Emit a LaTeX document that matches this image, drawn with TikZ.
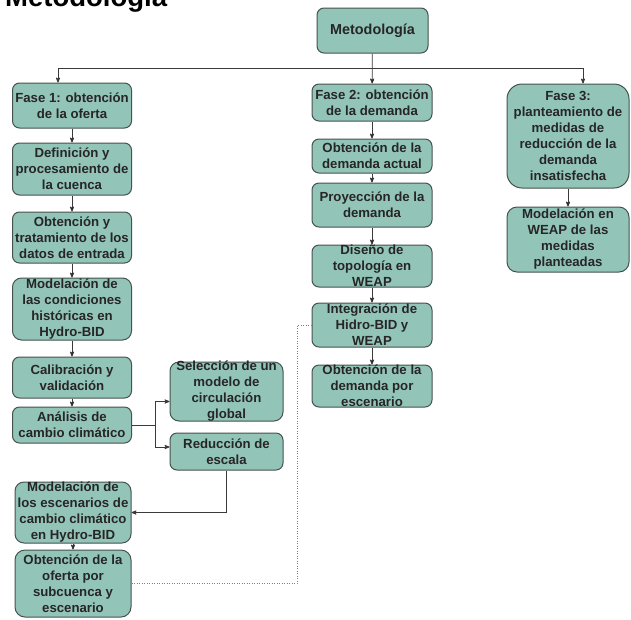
\documentclass[tikz,border=0pt]{standalone}
\usepackage{fontspec}
\setmainfont{Liberation Sans}
\usetikzlibrary{arrows}

\definecolor{relleno}{HTML}{93C4B8}
\definecolor{borde}{HTML}{45524F}
\definecolor{linea}{HTML}{3A3A3A}

\tikzset{
  caja/.style={draw=borde, line width=1pt, fill=relleno, rounded corners=7pt,
    minimum width=119pt, minimum height=#1, inner sep=0pt},
  caja/.default=40pt,
  texto/.style={font=\fontsize{13.2}{16}\selectfont\bfseries, text=black!85,
    align=center, inner sep=0pt},
  flecha/.style={->, draw=linea, line width=0.8pt},
  punteado/.style={draw=gray, line width=0.9pt, dash pattern=on 1pt off 1.5pt},
}

\begin{document}
\begin{tikzpicture}[x=1pt,y=-1pt,>=stealth']
  \useasboundingbox (0,0) rectangle (631,619);
  \node[font=\fontsize{27.5}{30}\selectfont\bfseries, anchor=base west, inner sep=0pt](titulo)at(5,6){Metodología};

  % raiz
  \node[caja=45pt, minimum width=111pt, label={[texto, font=\fontsize{14.4}{16}\selectfont\bfseries]center:Metodología}](meto)at(372.5,30.5){};
  \coordinate (bus) at (372.5,68);

  % fase 1: oferta
  \node[caja=45pt, label={[texto]center:Fase 1: obtención\\de la oferta}](fase1)at(72,105.5){};
  \node[caja=52pt, label={[texto]center:Definición y\\procesamiento de\\la cuenca}](defi)at(72,169){};
  \node[caja=51pt, label={[texto]center:Obtención y\\tratamiento de los\\datos de entrada}](datos)at(72,237.5){};
  \node[caja=62pt, rounded corners=9pt, label={[texto]center:Modelación de\\las condiciones\\históricas en\\Hydro-BID}](hist)at(72,309){};
  \node[caja=41pt, label={[texto]center:Calibración y\\validación}](calib)at(72,377.5){};
  \node[caja=36pt, label={[texto]center:Análisis de\\cambio climático}](anal)at(72,425){};
  \node[caja=59pt, minimum width=113pt, rounded corners=9pt, label={[texto]center:Selección de un\\modelo de\\circulación\\global}](selec)at(226.5,391.5){};
  \node[caja=37pt, minimum width=113pt, label={[texto]center:Reducción de\\escala}](reduc)at(226.5,451.5){};
  \node[caja=61pt, minimum width=116pt, rounded corners=9pt, label={[texto]center:Modelación de\\los escenarios de\\cambio climático\\en Hydro-BID}](escen)at(73,512.5){};
  \node[caja=67pt, minimum width=116pt, rounded corners=10pt, label={[texto]center:Obtención de la\\oferta por\\subcuenca y\\escenario}](oferta)at(73,583.5){};
  \coordinate (rama) at (155,425);
  \coordinate (codo) at (297,325);

  % fase 2: demanda
  \node[caja=37pt, minimum width=120pt, label={[texto]center:Fase 2: obtención\\de la demanda}](fase2)at(372,102.5){};
  \node[caja=34pt, minimum width=120pt, label={[texto]center:Obtención de la\\demanda actual}](actual)at(372,156){};
  \node[caja=44pt, minimum width=120pt, label={[texto]center:Proyección de la\\demanda}](proy)at(372,205){};
  \node[caja=42pt, minimum width=120pt, label={[texto]center:Diseño de\\topología en\\WEAP}](diseno)at(372,266){};
  \node[caja=44pt, minimum width=120pt, label={[texto]center:Integración de\\Hidro-BID y\\WEAP}](integ)at(372,325){};
  \node[caja=42pt, minimum width=120pt, label={[texto]center:Obtención de la\\demanda por\\escenario}](escdem)at(372,386){};

  % fase 3: medidas
  \node[caja=104pt, minimum width=122pt, rounded corners=15pt, label={[texto]center:Fase 3:\\planteamiento de\\medidas de\\reducción de la\\demanda\\insatisfecha}](fase3)at(568,136){};
  \node[caja=65pt, minimum width=122pt, rounded corners=10pt, label={[texto]center:Modelación en\\WEAP de las\\medidas\\planteadas}](wmed)at(568,239.5){};

  \draw[flecha] (bus) -| ([xshift=-14pt]fase1.north);
  \draw[flecha] (bus) -| ([xshift=15pt]fase3.north);
  \path[flecha] (meto) edge (fase2)
    (fase1) edge (defi)
    (defi) edge (datos)
    (datos) edge (hist)
    (hist) edge (calib)
    (calib) edge (anal)
    (escen) edge (oferta)
    (fase2) edge (actual)
    (actual) edge (proy)
    (proy) edge (diseno)
    (diseno) edge (integ)
    (integ) edge (escdem)
    (fase3) edge (wmed);
  \draw[draw=linea, line width=0.8pt] (anal.east) -- (rama);
  \draw[flecha] (rama) |- ([yshift=-10pt]selec.west);
  \draw[flecha] (rama) |- ([yshift=4.5pt]reduc.west);
  \draw[flecha] (reduc.south) |- (escen.east);
  \draw[punteado] (oferta.east) -| (codo) -- (integ.west);
\end{tikzpicture}
\end{document}
